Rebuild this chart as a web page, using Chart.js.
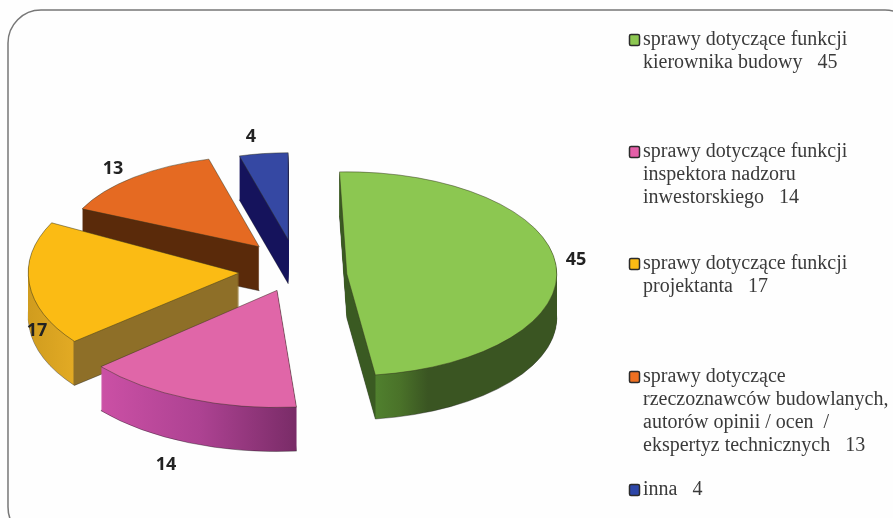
<!DOCTYPE html>
<html lang="pl">
<head>
<meta charset="utf-8">
<title>Wykres</title>
<script src="https://cdn.jsdelivr.net/npm/chart.js@4"></script>
<style>
  html, body { margin: 0; padding: 0; background: #fefefe; overflow: hidden; }
  canvas { display: block; }
</style>
</head>
<body>
<canvas id="myChart" width="893" height="518"></canvas>
<script>
/* Dane ------------------------------------------------------------------- */
const categories = [
    ['sprawy dotyczące funkcji', 'kierownika budowy'],
    ['sprawy dotyczące funkcji', 'inspektora nadzoru', 'inwestorskiego'],
    ['sprawy dotyczące funkcji', 'projektanta'],
    ['sprawy dotyczące', 'rzeczoznawców budowlanych,', 'autorów opinii / ocen  /', 'ekspertyz technicznych'],
    ['inna']
];
const values = [45, 14, 17, 13, 4];

/* Kolory i układ --------------------------------------------------------- */
const topColors = ['#8cc751', '#e066a8', '#fbbb14', '#e56a22', '#3548a3'];
const legendColors = ['#8cc751', '#e45fa8', '#fbbb14', '#ee7022', '#2c46a8'];
const sideStops = [
    [[340, '#3a5a22'], [375, '#3a5a22'], [376, '#50802e'], [400, '#4a7229'], [428, '#3a5522'], [557, '#3a5522']],
    [[101, '#cb50a5'], [200, '#ad4292'], [295, '#7a2c68']],
    [[28, '#d09c1e'], [73, '#e2aa24'], [74, '#8e6f28'], [240, '#8e6f28']],
    [[70, '#5a2a0a'], [260, '#5a2a0a']],
    [[230, '#15135c'], [290, '#15135c']]
];
/* rzut ma perspektywe, wiec kazdy wycinek ma troche inne proporcje */
const sliceOffsets = [204, 200, 228, 228, 232];
const sliceRadii = [210, 232, 211, 195, 183];
const sliceTilts = [0.486, 0.505, 0.52, 0.465, 0.475];
const sliceTurns = [0, 3, 5, 2.5, 2];
const sliceLift = [9, 0, 3, 0, 0];
const drawOrder = [4, 3, 2, 1, 0];
const depth = 44;
const legendRows = [40, 152, 264, 377, 490];
const labelAnchors = [[576, 260], [166, 465], [37, 331], [113, 169], [251, 137]];

/* Rysowanie wycinków w rzucie ukośnym ------------------------------------ */
const tiltedPie = {
    id: 'tiltedPie',
    beforeDraw(chart) {
        const ctx = chart.ctx;
        ctx.save();
        ctx.strokeStyle = '#777';
        ctx.lineWidth = 1.5;
        ctx.beginPath();
        ctx.roundRect(8, 10, 910, 530, 33);
        ctx.stroke();
        ctx.restore();
    },
    beforeDatasetsDraw(chart) {
        const ctx = chart.ctx;
        const arcs = chart.getDatasetMeta(0).data;
        const cx = arcs[0].x;
        const cy = arcs[0].y;
        const place = (i, drop) => {
            ctx.translate(cx, cy + drop + sliceLift[i]);
            ctx.scale(1, sliceTilts[i]);
            ctx.translate(-cx, -cy);
        };
        drawOrder.forEach((i) => {
            const arc = arcs[i];
            const base = arc.options;
            const saved = [arc.outerRadius, arc.startAngle, arc.endAngle, arc.circumference];
            arc.outerRadius = sliceRadii[i];
            arc.startAngle += sliceTurns[i] * Math.PI / 180;
            arc.endAngle += sliceTurns[i] * Math.PI / 180;
            // przy tej wartosci Chart.js nie zmienia promienia o offset
            arc.circumference = Math.PI / 2;

            // arc.draw przesuwa uklad o offset, gradient musi to uwzglednic
            const shift = Math.cos((arc.startAngle + arc.endAngle) / 2) * sliceOffsets[i] / 4;
            const stops = sideStops[i];
            const x0 = stops[0][0];
            const x1 = stops[stops.length - 1][0];
            const grad = ctx.createLinearGradient(x0 - shift, 0, x1 - shift, 0);
            stops.forEach(([x, c]) => grad.addColorStop((x - x0) / (x1 - x0), c));

            for (let d = depth; d >= 1; d--) {
                ctx.save();
                place(i, d);
                arc.options = Object.assign({}, base, {
                    backgroundColor: grad,
                    borderWidth: d === depth ? 1 : 0,
                    borderColor: 'rgba(30,30,30,.55)'
                });
                arc.draw(ctx);
                ctx.restore();
            }
            ctx.save();
            place(i, 0);
            arc.options = base;
            arc.draw(ctx);
            ctx.restore();
            [arc.outerRadius, arc.startAngle, arc.endAngle, arc.circumference] = saved;
        });
        return false;
    },
    afterDraw(chart) {
        const ctx = chart.ctx;
        ctx.save();
        ctx.textBaseline = 'middle';
        ctx.textAlign = 'center';
        ctx.font = 'bold 18px "Open Sans"';
        ctx.fillStyle = '#222';
        values.forEach((v, i) => ctx.fillText(String(v), labelAnchors[i][0], labelAnchors[i][1]));

        ctx.textAlign = 'left';
        ctx.font = '20px "Liberation Serif"';
        categories.forEach((lines, i) => {
            const top = legendRows[i];
            ctx.fillStyle = legendColors[i];
            ctx.strokeStyle = '#2b2b2b';
            ctx.lineWidth = 1.5;
            ctx.beginPath();
            ctx.roundRect(629.5, top - 5.5, 10, 11, 1.5);
            ctx.fill();
            ctx.stroke();
            ctx.fillStyle = '#3a3a3a';
            lines.forEach((line, n) => {
                const isLast = n === lines.length - 1;
                const text = isLast ? `${line}   ${values[i]}` : line;
                ctx.fillText(text, 643, top + n * 23);
            });
        });
        ctx.restore();
    }
};

new Chart(document.getElementById('myChart'), {
    type: 'pie',
    data: {
        labels: categories.map((c) => c.join(' ')),
        datasets: [{
            data: values,
            backgroundColor: topColors,
            borderColor: 'rgba(50,50,30,.65)',
            borderWidth: 1,
            offset: sliceOffsets
        }]
    },
    options: {
        responsive: false,
        animation: false,
        events: [],
        rotation: -2,
        radius: 205,
        layout: { padding: { top: 16, right: 301 } },
        plugins: { legend: { display: false }, tooltip: { enabled: false } }
    },
    plugins: [tiltedPie]
});
</script>
</body>
</html>
